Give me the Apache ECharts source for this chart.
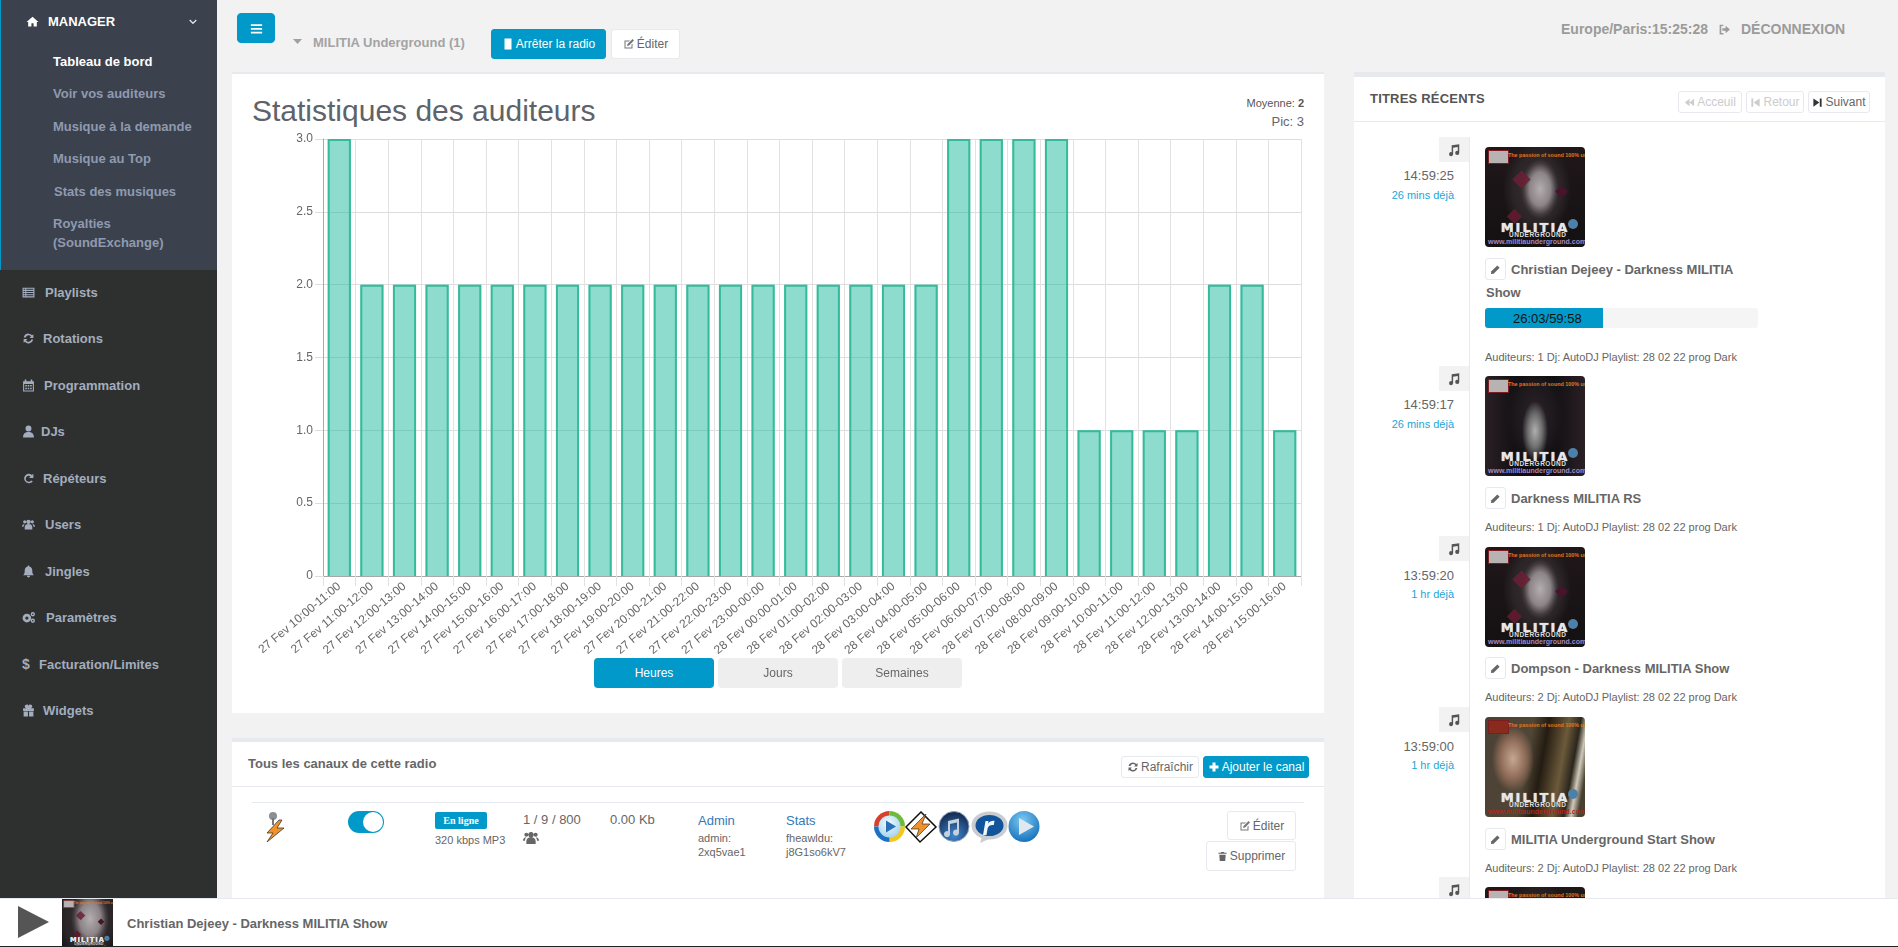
<!DOCTYPE html>
<html lang="fr"><head><meta charset="utf-8"><title>Statistiques des auditeurs</title>
<script src="https://cdn.jsdelivr.net/npm/echarts@6/dist/echarts.min.js"></script>
<style>
html,body{margin:0;padding:0;width:1898px;height:947px;overflow:hidden;background:#f2f2f2;font-family:"Liberation Sans",Arial,sans-serif;color:#666}
.b{position:absolute;box-sizing:border-box}
.t{position:absolute;white-space:nowrap;line-height:1;transform:translateY(-50%)}
.btn{position:absolute;box-sizing:border-box;border:1px solid #e6e9ed;border-radius:3px;background:#fff;display:flex;align-items:center;justify-content:center;font-size:12px;color:#666;white-space:nowrap;gap:2px}
.btn.pri{background:#0099c9;border-color:#0099c9;color:#fff}
svg{display:block;flex:none}
.art{overflow:hidden;border-radius:4px;background:#111}
.art div{position:absolute}
</style></head><body>
<div id="page"></div>
<script>
/* ---------- chart data ---------- */
const categories = ["27 Fev 10:00-11:00","27 Fev 11:00-12:00","27 Fev 12:00-13:00","27 Fev 13:00-14:00","27 Fev 14:00-15:00","27 Fev 15:00-16:00","27 Fev 16:00-17:00","27 Fev 17:00-18:00","27 Fev 18:00-19:00","27 Fev 19:00-20:00","27 Fev 20:00-21:00","27 Fev 21:00-22:00","27 Fev 22:00-23:00","27 Fev 23:00-00:00","28 Fev 00:00-01:00","28 Fev 01:00-02:00","28 Fev 02:00-03:00","28 Fev 03:00-04:00","28 Fev 04:00-05:00","28 Fev 05:00-06:00","28 Fev 06:00-07:00","28 Fev 07:00-08:00","28 Fev 08:00-09:00","28 Fev 09:00-10:00","28 Fev 10:00-11:00","28 Fev 11:00-12:00","28 Fev 12:00-13:00","28 Fev 13:00-14:00","28 Fev 14:00-15:00","28 Fev 15:00-16:00"];
const listeners = [3,2,2,2,2,2,2,2,2,2,2,2,2,2,2,2,2,2,2,3,3,3,3,1,1,1,1,2,2,1];
const yTickLabels = ["0","0.5","1.0","1.5","2.0","2.5","3.0"];
/* ---------- page text ---------- */
const subMenu = ["Tableau de bord","Voir vos auditeurs","Musique à la demande","Musique au Top","Stats des musiques"];
const mainMenu = ["Playlists","Rotations","Programmation","DJs","Répéteurs","Users","Jingles","Paramètres","Facturation/Limites","Widgets"];
const trackTitles = ["Christian Dejeey - Darkness MILITIA","Darkness MILITIA RS","Dompson - Darkness MILITIA Show","MILITIA Underground Start Show"];
const trackTimes = ["14:59:25","14:59:17","13:59:20","13:59:00"];
const trackAges = ["26 mins déjà","26 mins déjà","1 hr déjà","1 hr déjà"];
const trackInfo = ["Auditeurs: 1 Dj: AutoDJ Playlist: 28 02 22 prog Dark","Auditeurs: 1 Dj: AutoDJ Playlist: 28 02 22 prog Dark","Auditeurs: 2 Dj: AutoDJ Playlist: 28 02 22 prog Dark","Auditeurs: 2 Dj: AutoDJ Playlist: 28 02 22 prog Dark"];

const page = document.getElementById('page');
function box(x,y,w,h,css,html){const d=document.createElement('div');d.className='b';d.style.cssText=`left:${x}px;top:${y}px;width:${w}px;height:${h}px;${css||''}`;if(html)d.innerHTML=html;page.appendChild(d);return d;}
function text(s,x,cy,size,color,extra){const d=document.createElement('div');d.className='t';d.style.cssText=`left:${x}px;top:${cy}px;font-size:${size}px;color:${color};${extra||''}`;d.innerHTML=s;page.appendChild(d);return d;}
function rtext(s,rx,cy,size,color,extra){return text(s,0,cy,size,color,`left:auto;right:${1898-rx}px;${extra||''}`);}
function btn(html,x,y,w,h,cls,css){const d=document.createElement('div');d.className='btn '+(cls||'');d.style.cssText=`left:${x}px;top:${y}px;width:${w}px;height:${h}px;${css||''}`;d.innerHTML=html;page.appendChild(d);return d;}
function circ(cx,cy,r){return `M${cx-r} ${cy}a${r} ${r} 0 1 0 ${2*r} 0a${r} ${r} 0 1 0 ${-2*r} 0z`;}
const P={
 home:'M12 3 1 13h3v8h6v-6h4v6h6v-8h3z',
 bars:'M3 5h18v3H3zM3 11h18v3H3zM3 17h18v3H3z',
 list:'M1 3h22v18H1zM3 5v2h3V5zM8 5v2h13V5zM3 9v2h3V9zM8 9v2h13V9zM3 13v2h3v-2zM8 13v2h13v-2zM3 17v2h3v-2zM8 17v2h13v-2z',
 sync:'M12 3a9 9 0 0 1 6.800 3.100L21 4v7h-7l2.600-2.600A5.200 5.200 0 0 0 7 10H3.200A9 9 0 0 1 12 3zM3 20v-7h7l-2.600 2.600A5.200 5.200 0 0 0 17 14h3.800A9 9 0 0 1 5.200 17.900z',
 cal:'M2 4h3V1h3v3h8V1h3v3h3v19H2zM4 9v12h16V9zM6 11h3v3H6zM10.500 11h3v3h-3zM15 11h3v3h-3zM6 16h3v3H6zM10.500 16h3v3h-3zM15 16h3v3h-3z',
 user:'M12 1a5.500 5.500 0 1 1 0 11 5.500 5.500 0 0 1 0-11zM2 23c0-7 4-10 10-10s10 3 10 10z',
 redo:'M12 3a9 9 0 0 1 6.200 2.500L21 3v8h-8l2.800-2.800A5.400 5.400 0 1 0 17 15.500l3 2.200A9 9 0 1 1 12 3z',
 users:'M12 3a4 4 0 1 1 0 8 4 4 0 0 1 0-8zM5 4a3 3 0 1 1 0 6 3 3 0 0 1 0-6zM19 4a3 3 0 1 1 0 6 3 3 0 0 1 0-6zM5 21v-4c0-4 3-6 7-6s7 2 7 6v4zM0 16c0-3 2-5 5-5-1 1-2 3-2 5zM24 16c0-3-2-5-5-5 1 1 2 3 2 5z',
 bell:'M12 1a2 2 0 0 1 2 2c4 1 5 4 5 8 0 4 1 6 3 8H2c2-2 3-4 3-8 0-4 1-7 5-8a2 2 0 0 1 2-2zM9 20h6a3 3 0 0 1-6 0z',
 cogs:circ(9,13,8)+circ(9,13,3)+circ(20,6,4)+circ(20,6,1.5)+circ(20,18,4)+circ(20,18,1.5),
 gift:'M2 8h8c-3 0-5-1.500-5-3.500S7 1 9 1c1.500 0 2.500 1 3 2.500C12.500 2 13.500 1 15 1c2 0 4 1.500 4 3.500S17 8 14 8h8v5H2zM3 14h8v9H3zM13 14h8v9h-8z',
 music:'M8 4l13-2v15a3.500 3.500 0 1 1-2.500-3.300V7L10.500 8.300V19a3.500 3.500 0 1 1-2.500-3.300z',
 pencil:'M16 3l5 5-13 13-6 1 1-6z',
 edit:'M3 5h11l-2 2H5v12h12v-6l2-2v10H3zM19 2l3 3-10 10-4 1 1-4z',
 plus:'M9 3h6v6h6v6h-6v6H9v-6H3V9h6z',
 stop:'M5 1h14v22H5z',
 trash:'M9 2h6l1 2h5v2H3V4h5zM5 8h14l-1 14H6z',
 logout:'M10 3H3v18h7v-2.500H6v-13h4zM14 5l8 7-8 7v-4.500H8v-5h6z',
 first:'M12 4v16L2 12zM22 4v16L12 12z',
 prev:'M3 3h4v18H3zM21 3v18L8 12z',
 next:'M17 3h4v18h-4zM3 3v18l13-9z'
};
function ic(n,s,c,css){return `<svg width="${s}" height="${s}" viewBox="0 0 24 24" style="${css||''}"><path fill="${c}" fill-rule="evenodd" d="${P[n]}"/></svg>`;}
function icon(n,x,cy,s,c){return box(x,cy-s/2,s,s,'',ic(n,s,c));}

/* ---------- sidebar ---------- */
box(0,0,217,898,'background:#2e3030');
box(0,0,217,270,'background:#3b424d;border-left:1px solid #0099c9');
icon('home',26,21,13,'#fff');
text('MANAGER',48,21,13,'#fff','font-weight:700');
box(189,19,8,8,'','<svg width="8" height="6" viewBox="0 0 8 6"><path d="M.7 1 4 4.300 7.300 1" stroke="#dfe3e8" stroke-width="1.300" fill="none"/></svg>');
const subY=[61,93,126,158,191];
subMenu.forEach((s,i)=>text(s,i===4?54:53,subY[i],13,i===0?'#fff':'#8f9ab0','font-weight:700'));
text('Royalties',53,223,13,'#8f9ab0','font-weight:700');
text('(SoundExchange)',53,242,13,'#8f9ab0','font-weight:700');
const mainY=[292,338,385,431,478,524,571,617,664,710];
const mainX=[45,43,44,41,43,45,45,46,39,43];
const mainI=['list','sync','cal','user','redo','users','bell','cogs',null,'gift'];
const menuC='#a3adbd';
mainMenu.forEach((s,i)=>{text(s,mainX[i],mainY[i],13,menuC,'font-weight:700');if(mainI[i])icon(mainI[i],22,mainY[i],13,menuC);else text('$',22,mainY[i],14,menuC,'font-weight:700');});

/* ---------- top bar ---------- */
btn(ic('bars',15,'#fff'),237,13,38,30,'pri','border-radius:4px');
box(293,39,9,5,'background:#a0a0a0;clip-path:polygon(0 0,100% 0,50% 100%)');
text('MILITIA Underground (1)',313,42,13,'#a3a3a3','font-weight:700');
btn(ic('stop',12,'#fff')+'<span>Arrêter la radio</span>',491,29,115,30,'pri');
btn(ic('edit',12,'#777')+'<span>Éditer</span>',611,29,69,30);
text('Europe/Paris:15:25:28',1561,29,14,'#9b9b9b','font-weight:700');
icon('logout',1718,29,13,'#9b9b9b');
text('DÉCONNEXION',1741,29,14,'#9b9b9b','font-weight:700');

/* ---------- chart panel ---------- */
box(232,72,1092,641,'background:#fff;border-top:2px solid #e6e9ed');
text('Statistiques des auditeurs',252,111,30,'#5e6369');
rtext('Moyenne: <b>2</b>',1304,103,11,'#555');
rtext('Pic: 3',1304,121,13,'#666');
const chartDiv=box(232,74,1092,639);
btn('Heures',594,658,120,30,'pri','border-radius:4px;border:0');
btn('Jours',718,658,120,30,'','border-radius:4px;border:0;background:#eee');
btn('Semaines',842,658,120,30,'','border-radius:4px;border:0;background:#eee');

/* ---------- channels panel ---------- */
box(232,738,1092,162,'background:#fff;border-top:4px solid #e6e9ed');
text('Tous les canaux de cette radio',248,763,13,'#666','font-weight:700');
btn(ic('sync',12,'#666')+'<span>Rafraîchir</span>',1121,756,78,22);
btn(ic('plus',12,'#fff')+'<span>Ajouter le canal</span>',1203,756,106,22,'pri');
box(232,786,1092,1,'background:#e6e9ed');
box(252,802,1052,1,'background:#e6e9ed');
box(262,810,26,32,'','<svg width="26" height="32" viewBox="0 0 26 32"><circle cx="11" cy="6" r="4" fill="#8a8f94"/><path d="M11 8v7" stroke="#777" stroke-width="2"/><path d="M17 10 5 23l6 0-6 9 17-14h-7l5-8z" fill="#f0912a" stroke="#3a3a3a" stroke-width=".8"/></svg>');
box(348,811,36,22,'background:#0099c9;border-radius:11px');
box(363,812,20,20,'background:#fff;border-radius:50%');
box(435,812,52,17,'background:#0099c9;border-radius:2px;display:flex;align-items:center;justify-content:center;color:#fff;font:700 10px "Liberation Serif",serif','En ligne');
text('320 kbps MP3',435,840,11,'#666');
text('1 / 9 / 800',523,819,13,'#666');
icon('users',523,838,16,'#666');
text('0.00 Kb',610,819,13,'#666');
text('Admin',698,820,13,'#337ab7');
text('admin:',698,838,11,'#666');
text('2xq5vae1',698,852,11,'#666');
text('Stats',786,820,13,'#337ab7');
text('fheawldu:',786,838,11,'#666');
text('j8G1so6kV7',786,852,11,'#666');
box(874,811,168,33,'',`<svg width="168" height="33" viewBox="0 0 168 33">
<defs><radialGradient id="bl" cx=".45" cy=".3" r=".8"><stop offset="0" stop-color="#7cc9f2"/><stop offset="1" stop-color="#0a66b5"/></radialGradient>
<radialGradient id="dk" cx=".5" cy=".8" r=".8"><stop offset="0" stop-color="#3f86cf"/><stop offset="1" stop-color="#12264a"/></radialGradient>
<radialGradient id="wm" cx=".45" cy=".35" r=".7"><stop offset="0" stop-color="#f4fbff"/><stop offset="1" stop-color="#9fd2ee"/></radialGradient></defs>
<path d="M15.500 0A15.500 15.500 0 0 0 0 15.500H15.500z" fill="#d7402c"/><path d="M15.500 0A15.500 15.500 0 0 1 31 15.500H15.500z" fill="#6dbb3a"/><path d="M31 15.500A15.500 15.500 0 0 1 15.500 31V15.500z" fill="#f3c71c"/><path d="M15.500 31A15.500 15.500 0 0 1 0 15.500H15.500z" fill="#1d71c4"/><circle cx="15.500" cy="15.500" r="11" fill="url(#wm)"/><path d="M12 9.500 22 15.500l-10 6z" fill="#2a6fb5"/>
<path d="M47 1 32 16l14 15 16-15z" fill="#fff" stroke="#111" stroke-width="1.500"/><path d="M52 3 37 18h8l-3 9 14-14h-8z" fill="#f0912a" stroke="#333" stroke-width=".7"/>
<circle cx="80" cy="15.500" r="15" fill="url(#dk)" stroke="#8fa2b8"/><path d="M74 10l11-2.500v14a3 3 0 1 1-2-2.700V11.500l-7 1.500v10a3 3 0 1 1-2-2.700z" fill="#c4d2df"/>
<ellipse cx="115.500" cy="14.500" rx="18" ry="14" fill="#c9cdd1"/><path d="M108 26l-2 6 9-4z" fill="#c9cdd1"/><ellipse cx="115.500" cy="14.500" rx="14" ry="10.500" fill="#11549b"/><path d="M109 24l2.500-14h3l-.4 2.500c1.500-2.200 3.500-3 6.400-2.700l-.7 4.200c-3-.3-5.600.5-6.200 3.500L112.500 24z" fill="#eef6fc"/>
<circle cx="150" cy="15.500" r="15.500" fill="url(#bl)"/><path d="M145 7 160 15.500l-15 8.500z" fill="#dfe8ee"/></svg>`);
btn(ic('edit',12,'#777')+'<span>Éditer</span>',1227,811,69,29);
btn(ic('trash',11,'#666')+'<span>Supprimer</span>',1206,841,90,30);

/* ---------- recent tracks panel ---------- */
box(1354,72,531,828,'background:#fff;border-top:5px solid #e6e9ed');
text('TITRES RÉCENTS',1370,98,13,'#555','font-weight:700;letter-spacing:.2px');
btn(ic('first',11,'#ccc')+'<span>Acceuil</span>',1678,91,64,22,'','color:#ccc');
btn(ic('prev',11,'#ccc')+'<span>Retour</span>',1746,91,58,22,'','color:#ccc');
btn(ic('next',11,'#333')+'<span>Suivant</span>',1808,91,62,22);
box(1354,121,531,1,'background:#e6e9ed');
box(1469,137,1,763,'background:#e6e9ed');

const iconBoxY=[137,366,536,707,877], timeY=[175,404,575,746], ageY=[195,424,594,765], artY=[147,376,547,717,887];
const face='radial-gradient(ellipse 19px 30px at 55% 42%,#b4aeb0 0,#8c8486 55%,rgba(70,62,65,.85) 85%,transparent 100%),radial-gradient(ellipse 34px 48px at 52% 42%,#3a3336 0,#2b2528 70%,transparent 100%),linear-gradient(#201719,#141113)';
const skull='radial-gradient(ellipse 13px 30px at 50% 55%,#b0b0b0 0,#6e6e6e 55%,transparent 100%),radial-gradient(ellipse 30px 50px at 50% 40%,#2c2429 0,#1b171b 70%,transparent 100%),linear-gradient(90deg,#2a2026,#0e0d10 35%,#0e0d10 65%,#2a2026)';
const girl='radial-gradient(ellipse 21px 33px at 28% 42%,#c7a790 0,#8e6b58 60%,transparent 100%),linear-gradient(100deg,#4c4136 0,#504636 42%,#241c12 55%,#6c5a3b 72%,#2b261c 82%,#cfc9ba 88%,#47402f 94%)';
const artBg=[face,skull,face,girl,face];
function art(x,y,w,h,i){
  const k=w/100, d=box(x,y,w,h,'background:'+artBg[i]);
  d.classList.add('art');
  const inner=[];
  if(i===0||i===2||i===4){inner.push('<div style="left:30%;top:26%;width:13px;height:13px;background:#6b1f35;transform:rotate(45deg);opacity:.85"></div><div style="left:24%;top:64%;width:11px;height:11px;background:#5c1a2e;transform:rotate(45deg)"></div><div style="left:72%;top:40%;width:9px;height:9px;background:#46152a;transform:rotate(45deg)"></div>');}
  const red=i===3;
  inner.push(`<div style="left:3px;top:3px;width:19px;height:12px;background:${red?'#8a2a1c':'#b9b2b2'};border:1px solid #7a1e22"></div>`);
  inner.push(`<div style="left:23px;top:5px;white-space:nowrap;font:700 6px 'Liberation Sans';color:#e0771d;transform:scaleX(.9);transform-origin:0 0">The passion of sound 100% underground</div>`);
  inner.push(`<div style="left:3px;top:73px;width:94px;text-align:center;white-space:nowrap;font:900 13px 'DejaVu Sans';letter-spacing:2px;color:#e6e6e6;text-shadow:0 0 1px #fff">MILITIA</div>`);
  inner.push(`<div style="left:24px;top:84px;white-space:nowrap;font:700 6.5px 'Liberation Sans';letter-spacing:.5px;color:#ddd">UNDERGROUND</div>`);
  inner.push(`<div style="left:3px;top:91px;width:94px;text-align:center;white-space:nowrap;font:700 7px 'Liberation Sans';color:${red?'#b3261e':'#a58ac0'}">www.militiaunderground.com</div>`);
  inner.push('<div style="left:83px;top:72px;width:10px;height:10px;border-radius:50%;background:#4d80a8"></div>');
  d.innerHTML=`<div style="left:0;top:0;width:100px;height:100px;transform:scale(${k});transform-origin:0 0">${inner.join('')}</div>`;
  return d;
}
iconBoxY.forEach((y,i)=>{
  box(1439,y,30,25,'background:#f2f2f2;display:flex;align-items:center;justify-content:center',ic('music',14,'#555'));
  art(1485,artY[i],100,100,i);
  if(i<4){
    rtext(trackTimes[i],1454,timeY[i],13,'#666');
    rtext(trackAges[i],1454,ageY[i],11,'#1aa7d6');
  }
});
const titleY=[269,498,668,839], infoY=[357,527,697,868];
trackTitles.forEach((s,i)=>{
  btn(ic('pencil',11,'#666'),1485,titleY[i]-11,21,22);
  text(s,1511,titleY[i],13,'#666','font-weight:700');
  text(trackInfo[i],1485,infoY[i],11,'#666');
});
text('Show',1486,292,13,'#666','font-weight:700');
box(1485,308,273,20,'background:#f5f5f5;border-radius:3px');
box(1485,308,118,20,'background:#0099c9;border-radius:3px 0 0 3px');
text('26:03/59:58',1513,318,13,'#111');

/* ---------- footer ---------- */
box(0,898,1898,49,'background:#fff;border-top:1px solid #e6e9ed;border-bottom:1px solid #222');
box(18,906,31,32,'background:#555;clip-path:polygon(0 0,100% 50%,0 100%)');
art(62,899,51,47,0).style.borderRadius='0';
text('Christian Dejeey - Darkness MILITIA Show',127,923,13,'#666','font-weight:700');

/* ---------- chart ---------- */
const BAR_RATIO = 23.2/32.6;
const chart = echarts.init(chartDiv,null,{renderer:'canvas'});
chart.setOption({
  animation:false,
  grid:{left:91,top:65,width:978,height:437},
  tooltip:{show:false},
  xAxis:{type:'category',data:categories,boundaryGap:true,
    axisLine:{show:true,lineStyle:{color:'#a8a8a8',width:1}},
    axisTick:{show:true,interval:0,length:10,lineStyle:{color:'#e2e2e2'}},
    splitLine:{show:true,interval:0,lineStyle:{color:'#e2e2e2',width:1}},
    axisLabel:{interval:0,rotate:40,margin:9,fontSize:12,color:'#666',fontFamily:'Liberation Sans',hideOverlap:false}},
  yAxis:{type:'value',min:0,max:3,interval:0.5,
    axisLine:{show:true,lineStyle:{color:'#a8a8a8',width:1}},
    axisTick:{show:true,length:8,lineStyle:{color:'#ddd'}},
    splitLine:{show:true,lineStyle:{color:'#ddd',width:1}},
    axisLabel:{margin:10,fontSize:12,color:'#666',fontFamily:'Liberation Sans',formatter:(v)=>yTickLabels[Math.round(v*2)]}},
  series:[
    {type:'bar',data:listeners,barWidth:23,itemStyle:{color:'rgba(29,186,155,0.5)'}},
    {type:'custom',silent:true,z:3,data:listeners.map((v,i)=>[i,v]),encode:{x:0,y:1},clip:false,
      renderItem(params,api){
        const i=api.value(0), base=api.coord([i,0]), top=api.coord([i,api.value(1)]);
        const w=api.size([1,0])[0]*BAR_RATIO, l=base[0]-w/2+1, r=base[0]+w/2-1;
        return {type:'polyline',shape:{points:[[l,base[1]],[l,top[1]+1],[r,top[1]+1],[r,base[1]]]},
          style:{stroke:'#35bb9b',lineWidth:2,fill:'none'}};
      }}
  ]
});
</script></body></html>
